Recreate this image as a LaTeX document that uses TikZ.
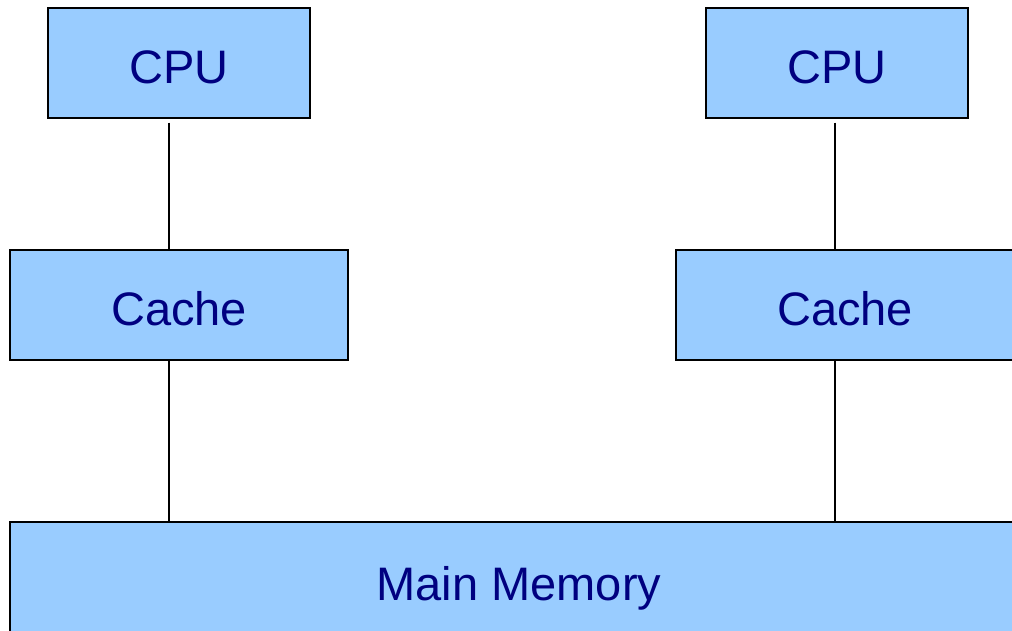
\documentclass[tikz,border=0pt]{standalone}
\usepackage{fontspec}
\setmainfont{Liberation Sans}
\definecolor{boxfill}{HTML}{99CCFF}
\definecolor{boxtext}{HTML}{000080}
\begin{document}
\begin{tikzpicture}[x=1pt,y=-1pt,
  unit/.style={draw=black,line width=1.3pt,fill=boxfill,text=boxtext,
    font=\fontsize{47}{54}\selectfont,inner sep=0pt,anchor=center,
    text height=41pt,text depth=0pt},
  link/.style={draw=black,line width=1.3pt}]
\useasboundingbox (0,0) rectangle (1012,630);
\clip (0,0) rectangle (1012,630);
% processors
\node[unit,minimum width=262pt,minimum height=110pt] (cpuL) at (179,63) {CPU};
\node[unit,minimum width=262pt,minimum height=110pt] (cpuR) at (837,63) {CPU};
% caches
\node[unit,minimum width=338pt,minimum height=110pt] (cacheL) at (179,305) {Cache};
\node[unit,minimum width=338pt,minimum height=110pt] (cacheR) at (845,305) {Cache};
% shared memory
\node[unit,minimum width=1018pt,minimum height=116pt] (mem) at (519,580) {Main Memory};
% connections
\draw[link] (cpuL.south -| 169,0) ++(0,4) -- (cacheL.north -| 169,0);
\draw[link] (cpuR.south -| 835,0) ++(0,4) -- (cacheR.north -| 835,0);
\draw[link] (cacheL.south -| 169,0) -- (mem.north -| 169,0);
\draw[link] (cacheR.south -| 835,0) -- (mem.north -| 835,0);
\end{tikzpicture}
\end{document}
